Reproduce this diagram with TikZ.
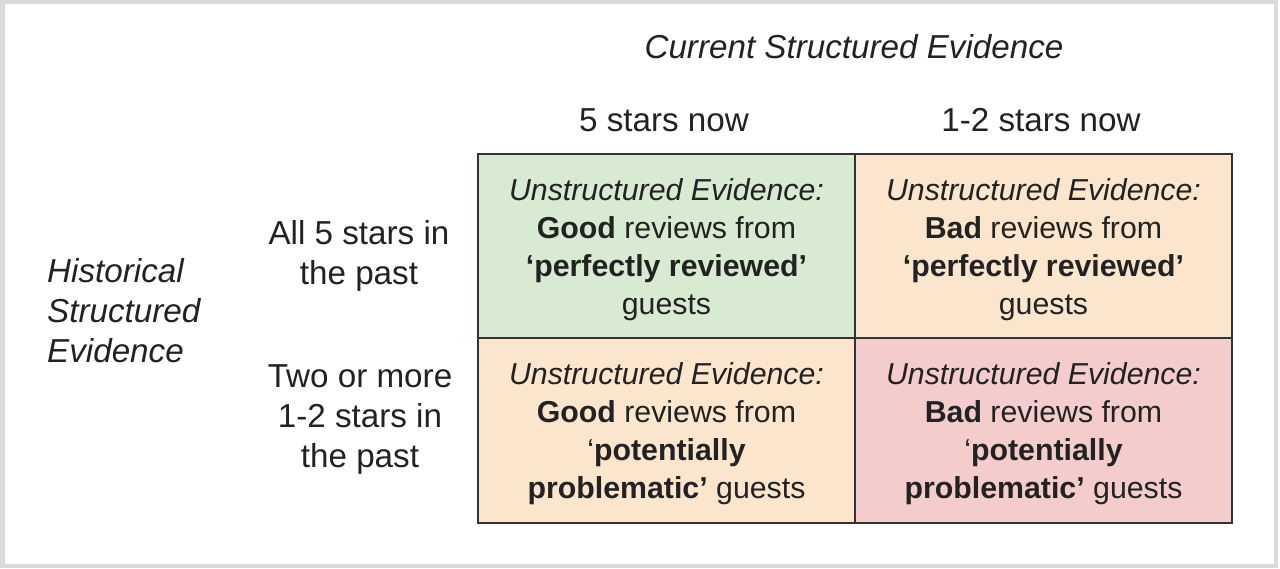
\documentclass[tikz,border=0pt]{standalone}
\usepackage{fontspec}
\setmainfont{Liberation Sans}
\definecolor{frame}{HTML}{DADADA}
\definecolor{cellgreen}{HTML}{D9EAD3}
\definecolor{cellorange}{HTML}{FCE5CD}
\definecolor{cellred}{HTML}{F4CCCC}
\definecolor{edge}{HTML}{333333}
\definecolor{ink}{HTML}{222222}
\begin{document}
\begin{tikzpicture}[x=1pt,y=-1pt,
  txt/.style={text=ink, inner sep=0pt, font=\fontsize{30.3}{38}\selectfont, align=center},
  lbl/.style={txt, font=\fontsize{33.2}{40}\selectfont},
  cell/.style={draw=edge, line width=2pt, minimum width=377pt, minimum height=184pt, inner sep=0pt},
  celltxt/.style={txt, yshift=-3.5pt}
]
\useasboundingbox (0,0) rectangle (1280,569);
\fill[white] (0,0) rectangle (1280,569);
\draw[frame, line width=4.5pt] (2.25,2.25) rectangle (1276,566);

\node[lbl] (cur) at (854,47) {\itshape Current Structured Evidence};
\node[lbl] (c5) at (664,120) {5 stars now};
\node[lbl] (c12) at (1041,120) {1-2 stars now};

\node[lbl] (r5) at (359,256) {All 5 stars in\\the past};
\node[lbl, align=left, anchor=west] (hist) at (47,311) {\itshape Historical\\\itshape Structured\\\itshape Evidence};
\node[lbl] (r12) at (360,420) {Two or more\\1-2 stars in\\the past};

\node[cell, fill=cellgreen] (gg) at (666.5,246.5) {};
\node[cell, fill=cellorange] (gb) at (1043.5,246.5) {};
\node[cell, fill=cellorange] (pg) at (666.5,430.5) {};
\node[cell, fill=cellred] (pb) at (1043.5,430.5) {};

\node[celltxt] (ggt) at (gg.center) {\itshape Unstructured Evidence:\\\textbf{Good} reviews from\\\textbf{‘perfectly reviewed’}\\guests};
\node[celltxt] (gbt) at (gb.center) {\itshape Unstructured Evidence:\\\textbf{Bad} reviews from\\\textbf{‘perfectly reviewed’}\\guests};
\node[celltxt] (pgt) at (pg.center) {\itshape Unstructured Evidence:\\\textbf{Good} reviews from\\‘\textbf{potentially}\\\textbf{problematic’} guests};
\node[celltxt] (pbt) at (pb.center) {\itshape Unstructured Evidence:\\\textbf{Bad} reviews from\\‘\textbf{potentially}\\\textbf{problematic’} guests};
\end{tikzpicture}
\end{document}
